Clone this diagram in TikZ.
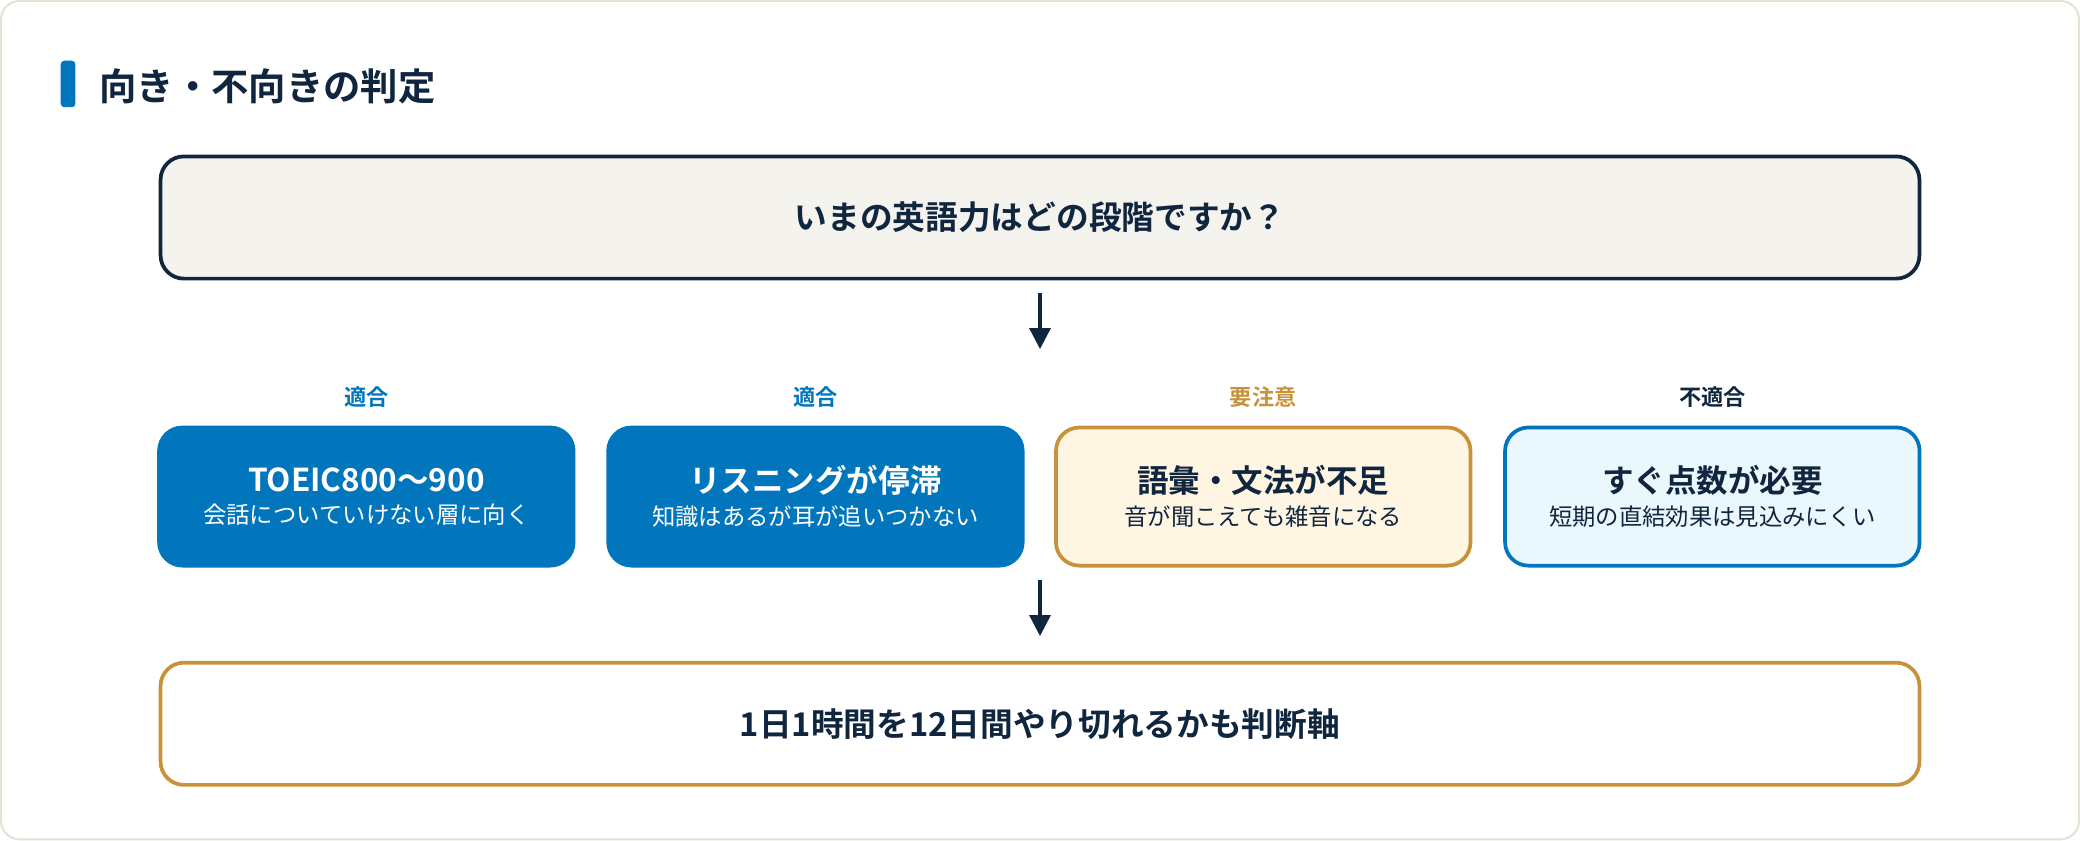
\documentclass[tikz,border=0pt]{standalone}
\usepackage{fontspec}
\setmainfont{Noto Sans CJK JP}[BoldFont={* Bold}]
\usetikzlibrary{positioning,calc,arrows.meta}
\definecolor{navy}{HTML}{10263F}
\definecolor{mainblue}{HTML}{0176BC}
\definecolor{gold}{HTML}{C8923A}
\definecolor{paper}{HTML}{F5F3EE}
\definecolor{cream}{HTML}{FFF5E3}
\definecolor{ice}{HTML}{EAF7FC}
\definecolor{frame}{HTML}{E4E0D2}
\begin{document}
\begin{tikzpicture}[x=0.02cm,y=-0.02cm,
	box/.style={rounded corners=10pt, line width=1.6pt, minimum width=6.24cm, minimum height=2.08cm, align=center},
	wide/.style={rounded corners=10pt, line width=1.6pt, minimum width=26.48cm, minimum height=1.84cm, font=\bfseries\fontsize{14}{16}\selectfont, text=navy},
	tag/.style={font=\bfseries\fontsize{9.5}{11}\selectfont},
	flow/.style={navy, line width=1.4pt, -{Triangle[length=9pt,width=9pt]}}]
	\draw[frame, fill=white, rounded corners=8pt, line width=0.8pt] (2,2) rectangle (1566,633);
	\fill[mainblue, rounded corners=1.5pt] (47,47) rectangle (58,82);
	\node[anchor=west, text=navy, font=\bfseries\fontsize{16}{18}\selectfont] (title) at (70,66) {向き・不向きの判定};

	\node[wide, draw=navy, fill=paper] (stage) at (784,165) {いまの英語力はどの段階ですか？};

	\node[box, fill=mainblue, draw=mainblue, text=white] (b1) at (277,375) {{\bfseries\fontsize{13.5}{17}\selectfont TOEIC800〜900}\\[2pt]{\fontsize{10}{12}\selectfont 会話についていけない層に向く}};
	\node[box, fill=mainblue, draw=mainblue, text=white] (b2) at (615,375) {{\bfseries\fontsize{13.5}{17}\selectfont リスニングが停滞}\\[2pt]{\fontsize{10}{12}\selectfont 知識はあるが耳が追いつかない}};
	\node[box, fill=cream, draw=gold, text=navy] (b3) at (952,375) {{\bfseries\fontsize{13.5}{17}\selectfont 語彙・文法が不足}\\[2pt]{\fontsize{10}{12}\selectfont 音が聞こえても雑音になる}};
	\node[box, fill=ice, draw=mainblue, text=navy] (b4) at (1290,375) {{\bfseries\fontsize{13.5}{17}\selectfont すぐ点数が必要}\\[2pt]{\fontsize{10}{12}\selectfont 短期の直結効果は見込みにくい}};

	\node[tag, text=mainblue] (t1) at (277,300) {適合};
	\node[tag, text=mainblue] (t2) at (615,300) {適合};
	\node[tag, text=gold] (t3) at (952,300) {要注意};
	\node[tag, text=navy] (t4) at (1290,300) {不適合};

	\node[wide, draw=gold, fill=white] (axis) at (784,546) {1日1時間を12日間やり切れるかも判断軸};

	\coordinate (a1) at (784,222);
	\coordinate (a2) at (784,264);
	\coordinate (a3) at (784,438);
	\coordinate (a4) at (784,480);
	\draw[flow] (a1) -- (a2);
	\draw[flow] (a3) -- (a4);
\end{tikzpicture}
\end{document}
